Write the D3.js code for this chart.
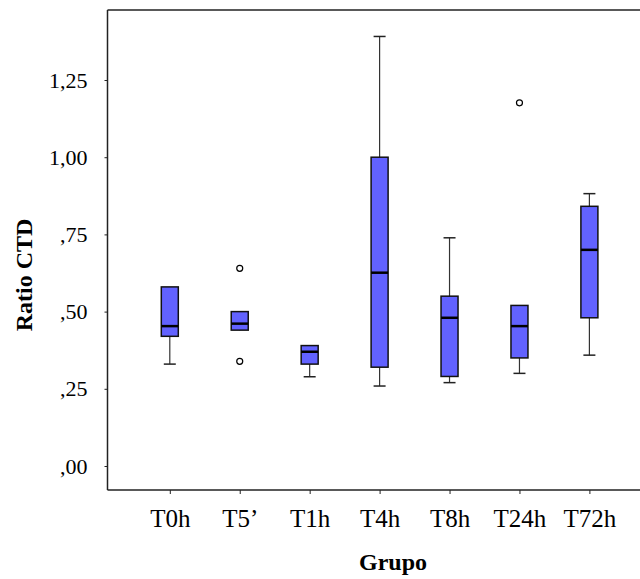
<!DOCTYPE html>
<html>
<head>
<meta charset="utf-8">
<script src="https://cdn.jsdelivr.net/npm/d3@7"></script>
<style>
  body { margin: 0; background: #fff; }
  text { font-family: "Liberation Serif", "Times New Roman", serif; fill: #000; }
  .label { font-weight: bold; font-size: 24px; }
</style>
</head>
<body>
<div class="svg-container"></div>
<script>
var width = 640;
var height = 579;

// data
var groups = ["T0h", "T5\u2019", "T1h", "T4h", "T8h", "T24h", "T72h"];
var q1 =      [0.42, 0.44, 0.33, 0.32, 0.29, 0.35, 0.48];
var median =  [0.453, 0.461, 0.37, 0.626, 0.48, 0.453, 0.70];
var q3 =      [0.58, 0.50, 0.39, 1.00, 0.55, 0.52, 0.841];
var whiskLo = [0.33, 0.44, 0.289, 0.259, 0.27, 0.30, 0.359];
var whiskHi = [0.58, 0.50, 0.39, 1.391, 0.739, 0.52, 0.882];
var outGroup = ["T5\u2019", "T5\u2019", "T24h"];
var outValue = [0.64, 0.339, 1.176];
var yTicks = [0, 0.25, 0.5, 0.75, 1.0, 1.25];

var plot = { left: 107.5, top: 10, bottom: 490, right: 660 };

var svg = d3.select(".svg-container")
    .append("svg")
    .attr("width", width)
    .attr("height", height);

var scaleY = d3.scaleLinear()
    .domain([-0.0777, 1.4767])
    .range([plot.bottom, plot.top]);

var scaleX = d3.scalePoint()
    .domain(groups)
    .range([169.8, 589.4]);

var boxW = 17, capW = 12;

var rows = groups.map(function(g, i) {
    return { g: g, q1: q1[i], med: median[i], q3: q3[i], lo: whiskLo[i], hi: whiskHi[i] };
});

// frame top line
svg.append("line")
    .attr("x1", plot.left).attr("x2", plot.right)
    .attr("y1", plot.top).attr("y2", plot.top)
    .attr("stroke", "#222").attr("stroke-width", 1.5);

// axes
var yAxis = svg.append("g")
    .attr("transform", "translate(" + plot.left + ",0)")
    .call(d3.axisLeft(scaleY).tickValues(yTicks).tickSize(3).tickPadding(17)
        .tickFormat(function(d) {
            var s = d3.format(".2f")(d).replace(".", ",");
            return s.charAt(0) === "0" ? s.slice(1) : s;
        }));
yAxis.select(".domain").attr("stroke", "#222").attr("stroke-width", 1.5)
    .attr("d", "M0," + plot.top + "V" + plot.bottom);
yAxis.selectAll(".tick line").attr("stroke", "#222");
yAxis.selectAll(".tick text").attr("font-size", "22px");

var xAxis = svg.append("g")
    .attr("transform", "translate(0," + plot.bottom + ")")
    .call(d3.axisBottom(scaleX).tickSize(4).tickPadding(15));
xAxis.select(".domain").attr("stroke", "#222").attr("stroke-width", 1.5)
    .attr("d", "M" + plot.left + ",0H" + plot.right);
xAxis.selectAll(".tick line").attr("stroke", "#222");
xAxis.selectAll(".tick text").attr("font-size", "25px");

// whiskers
var box = svg.append("g").selectAll("g.box")
    .data(rows)
    .enter()
    .append("g")
    .attr("class", "box");

box.append("line")
    .attr("x1", function(d) { return scaleX(d.g) })
    .attr("x2", function(d) { return scaleX(d.g) })
    .attr("y1", function(d) { return scaleY(d.hi) })
    .attr("y2", function(d) { return scaleY(d.lo) })
    .attr("stroke", "#333").attr("stroke-width", 1.2);

box.filter(function(d) { return d.hi > d.q3 }).append("line")
    .attr("x1", function(d) { return scaleX(d.g) - capW / 2 })
    .attr("x2", function(d) { return scaleX(d.g) + capW / 2 })
    .attr("y1", function(d) { return scaleY(d.hi) })
    .attr("y2", function(d) { return scaleY(d.hi) })
    .attr("stroke", "#222").attr("stroke-width", 1.5);

box.filter(function(d) { return d.lo < d.q1 }).append("line")
    .attr("x1", function(d) { return scaleX(d.g) - capW / 2 })
    .attr("x2", function(d) { return scaleX(d.g) + capW / 2 })
    .attr("y1", function(d) { return scaleY(d.lo) })
    .attr("y2", function(d) { return scaleY(d.lo) })
    .attr("stroke", "#222").attr("stroke-width", 1.5);

box.append("rect")
    .attr("x", function(d) { return scaleX(d.g) - boxW / 2 })
    .attr("width", boxW)
    .attr("y", function(d) { return scaleY(d.q3) })
    .attr("height", function(d) { return scaleY(d.q1) - scaleY(d.q3) })
    .attr("fill", "#6262ff")
    .attr("stroke", "#111").attr("stroke-width", 1.5);

box.append("line")
    .attr("x1", function(d) { return scaleX(d.g) - boxW / 2 })
    .attr("x2", function(d) { return scaleX(d.g) + boxW / 2 })
    .attr("y1", function(d) { return scaleY(d.med) })
    .attr("y2", function(d) { return scaleY(d.med) })
    .attr("stroke", "#000").attr("stroke-width", 2.5);

// outliers
svg.selectAll("circle.out")
    .data(outValue)
    .enter()
    .append("circle")
    .attr("class", "out")
    .attr("cx", function(d, i) { return scaleX(outGroup[i]) })
    .attr("cy", function(d) { return scaleY(d) })
    .attr("r", 3)
    .attr("fill", "#fff")
    .attr("stroke", "#000").attr("stroke-width", 1.2);

// labels
svg.append("text")
    .attr("class", "label")
    .attr("transform", "translate(32,275) rotate(270)")
    .attr("text-anchor", "middle")
    .text("Ratio CTD");

svg.append("text")
    .attr("class", "label")
    .attr("x", 393)
    .attr("y", 570)
    .attr("text-anchor", "middle")
    .text("Grupo");
</script>
</body>
</html>
